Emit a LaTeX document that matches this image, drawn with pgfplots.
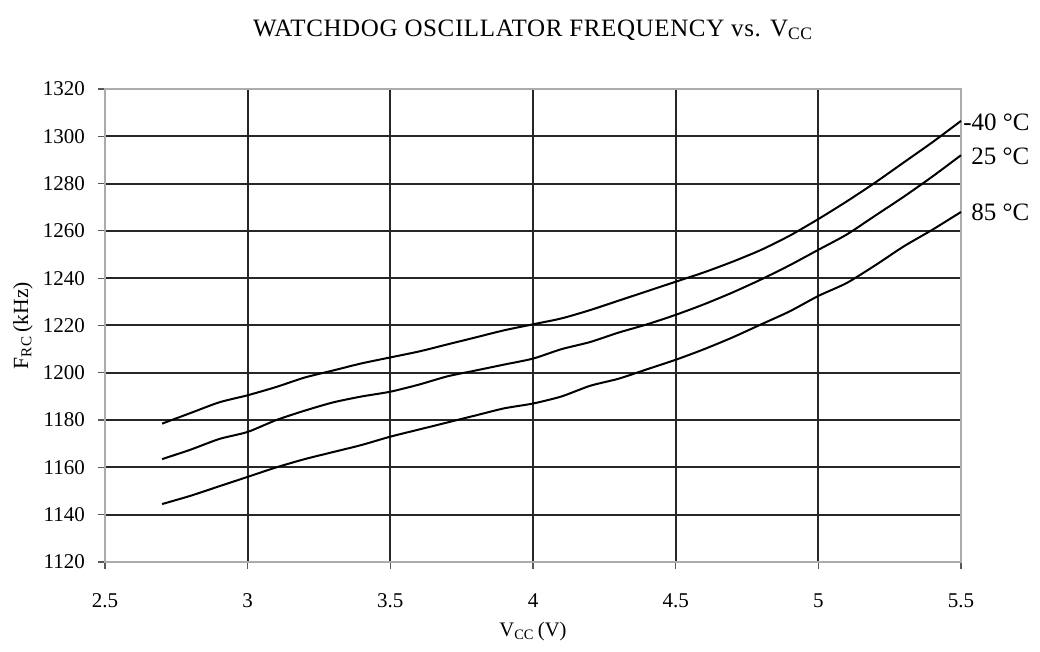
\documentclass[border=0pt]{standalone}
\usepackage{pgfplots}
\pgfplotsset{compat=1.18}
\usepackage{fontspec}
\setmainfont{Liberation Serif}
\begin{document}
\begin{tikzpicture}
\begin{axis}[
  scale only axis,
  width=428pt, height=236.5pt,
  xmin=2.5, xmax=5.5, ymin=1120, ymax=1320,
  xtick={2.5,3,...,5.5}, ytick={1120,1140,...,1320},
  xticklabels={2.5,3,3.5,4,4.5,5,5.5},
  /pgf/number format/assume math mode=true,
  /pgf/number format/1000 sep={},
  tick label style={font=\fontsize{10.5}{12}\selectfont},
  tick align=outside, major tick length=3.5pt,
  tick style={gray!70!black, line width=0.6pt},
  xtick pos=bottom, ytick pos=left,
  axis line style={gray!65, line width=1pt},
  grid=major,
  major grid style={black!85, line width=1pt},
  xticklabel style={yshift=-9pt},
  yticklabel style={xshift=-3pt},
  clip=false,
]
\addplot[black, line width=1pt, smooth, tension=0.4] coordinates {
(2.7,1178.5)(2.8,1183)(2.9,1187.5)(3.0,1190.5)(3.1,1194)(3.2,1198)(3.3,1201)(3.4,1204)(3.5,1206.5)(3.6,1209)(3.7,1212)(3.8,1215)(3.9,1218)(4.0,1220.5)(4.1,1223)(4.2,1226.5)(4.3,1230.5)(4.4,1234.5)(4.5,1238.5)(4.6,1242.5)(4.7,1247)(4.8,1252)(4.9,1258)(5.0,1265)(5.1,1272.5)(5.2,1280.5)(5.3,1289)(5.4,1297.5)(5.5,1306.5)};
\addplot[black, line width=1pt, smooth, tension=0.4] coordinates {
(2.7,1163.5)(2.8,1167.5)(2.9,1172)(3.0,1175)(3.1,1180)(3.2,1184)(3.3,1187.5)(3.4,1190)(3.5,1192)(3.6,1195)(3.7,1198.5)(3.8,1201)(3.9,1203.5)(4.0,1206)(4.1,1210)(4.2,1213)(4.3,1217)(4.4,1220.5)(4.5,1224.5)(4.6,1229)(4.7,1234)(4.8,1239.5)(4.9,1245.5)(5.0,1252)(5.1,1258.5)(5.2,1266.5)(5.3,1274.5)(5.4,1283)(5.5,1292)};
\addplot[black, line width=1pt, smooth, tension=0.4] coordinates {
(2.7,1144.5)(2.8,1148)(2.9,1152)(3.0,1156)(3.1,1160)(3.2,1163.5)(3.3,1166.5)(3.4,1169.5)(3.5,1173)(3.6,1176)(3.7,1179)(3.8,1182)(3.9,1185)(4.0,1187)(4.1,1190)(4.2,1194.5)(4.3,1197.5)(4.4,1201.5)(4.5,1205.5)(4.6,1210)(4.7,1215)(4.8,1220.5)(4.9,1226)(5.0,1232.5)(5.1,1238)(5.2,1245.5)(5.3,1253.5)(5.4,1260.5)(5.5,1268)};
\node[anchor=west, inner sep=0pt, xshift=1pt, font=\fontsize{12.5}{14}\selectfont] at (axis cs:5.5,1305.8) {-40~°C};
\node[anchor=west, inner sep=0pt, xshift=5pt, font=\fontsize{12.5}{14}\selectfont] at (axis cs:5.5,1291.6) {25~°C};
\node[anchor=west, inner sep=0pt, xshift=5pt, font=\fontsize{12.5}{14}\selectfont] at (axis cs:5.5,1268) {85~°C};
\node[font=\fontsize{12.5}{14}\selectfont\addfontfeature{LetterSpace=2.5}] at ([yshift=29.5pt]rel axis cs:0.5,1) {WATCHDOG OSCILLATOR FREQUENCY vs. V\textsubscript{CC}};
\node[font=\fontsize{10.3}{12}\selectfont] at ([yshift=-35pt]rel axis cs:0.5,0) {V\textsubscript{CC}\,(V)};
\node[font=\fontsize{10.8}{12}\selectfont, rotate=90] at ([xshift=-41pt]rel axis cs:0,0.5) {F\textsubscript{RC}\,(kHz)};
\coordinate (sw) at (rel axis cs:0,0);
\coordinate (ne) at (rel axis cs:1,1);
\end{axis}
\pgfresetboundingbox
\path ([shift={(-52.5pt,-45pt)}]sw) rectangle ([shift={(39.5pt,44.5pt)}]ne);
\end{tikzpicture}
\end{document}
